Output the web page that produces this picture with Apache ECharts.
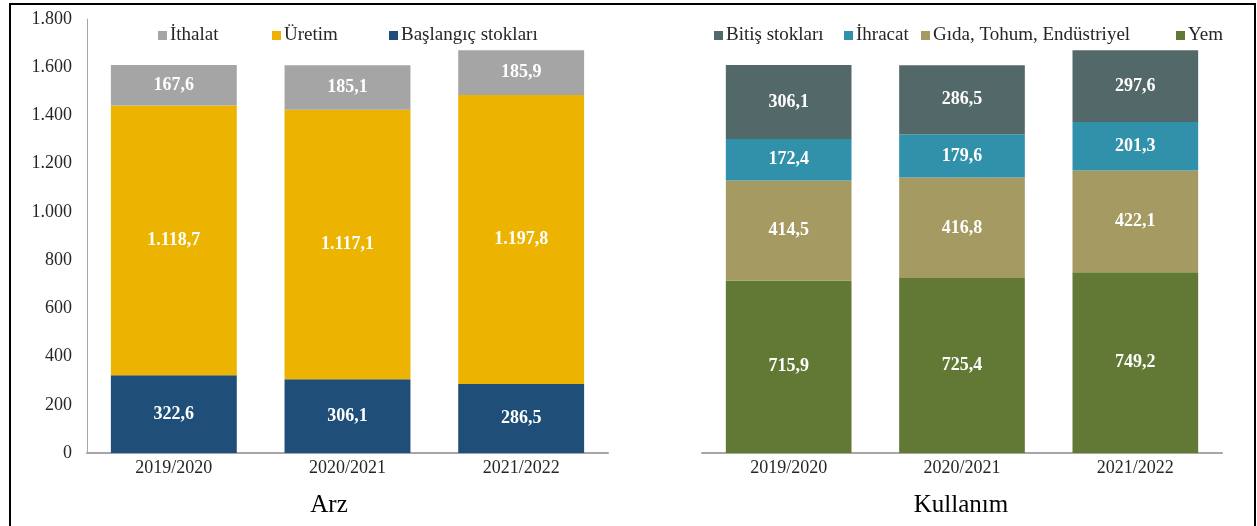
<!DOCTYPE html>
<html>
<head>
<meta charset="utf-8">
<script src="https://cdn.jsdelivr.net/npm/echarts@6/dist/echarts.min.js"></script>
<style>
  html, body { margin: 0; padding: 0; background: #fff; }
  #wrap { position: relative; width: 1257px; height: 526px; overflow: hidden; }
  #chart { position: absolute; left: 0; top: 0; width: 1257px; height: 526px; }
  #frame {
    position: absolute; left: 9px; top: 3px; width: 1243px; height: 560px;
    border: 2px solid #000; pointer-events: none;
  }
</style>
</head>
<body>
<div id="wrap">
  <div id="chart"></div>
  <div id="frame"></div>
</div>
<script>
// sezonlar
const years = ['2019/2020', '2020/2021', '2021/2022']

// Arz (bin ton)
const baslangicStok = [322.6, 306.1, 286.5]
const uretim = [1118.7, 1117.1, 1197.8]
const ithalat = [167.6, 185.1, 185.9]

// Kullanım (bin ton)
const yem = [715.9, 725.4, 749.2]
const gida = [414.5, 416.8, 422.1]
const ihracat = [172.4, 179.6, 201.3]
const bitisStok = [306.1, 286.5, 297.6]

const FONT = '"Liberation Serif", "Times New Roman", serif'

function thousands (s) {
  return s.replace(/\B(?=(\d{3})+(?!\d))/g, '.')
}
function fmtLabel (v) {
  const parts = v.toFixed(1).split('.')
  return thousands(parts[0]) + ',' + parts[1]
}

const labelStyle = {
  show: true,
  position: 'inside',
  color: '#fff',
  fontFamily: FONT,
  fontWeight: 'bold',
  fontSize: 18,
  formatter: p => fmtLabel(p.value)
}

function bar (name, data, color, idx, stack) {
  return {
    name: name,
    type: 'bar',
    stack: stack,
    xAxisIndex: idx,
    yAxisIndex: idx,
    barWidth: '72.5%',
    data: data,
    itemStyle: { color: color },
    label: labelStyle,
    emphasis: { disabled: true }
  }
}

function legendAt (name, left) {
  return {
    data: [name],
    left: left,
    top: 21,
    itemWidth: 9,
    itemHeight: 9,
    itemGap: 0,
    icon: 'rect',
    textStyle: { fontFamily: FONT, fontSize: 19, color: '#262626', padding: [0, 0, 0, -2] }
  }
}

const xAxisBase = {
  type: 'category',
  data: years,
  axisTick: { show: false },
  axisLine: { lineStyle: { color: '#A6A6A6', width: 2 } },
  axisLabel: { fontFamily: FONT, fontSize: 18, color: '#262626', margin: 6 }
}

const option = {
  animation: false,
  textStyle: { fontFamily: FONT },
  title: [
    { text: 'Arz', left: 324, top: 488, textAlign: 'center',
      textStyle: { fontFamily: FONT, fontSize: 25, fontWeight: 'normal', color: '#000' } },
    { text: 'Kullanım', left: 956, top: 488, textAlign: 'center',
      textStyle: { fontFamily: FONT, fontSize: 25, fontWeight: 'normal', color: '#000' } }
  ],
  legend: [
    legendAt('İthalat', 153),
    legendAt('Üretim', 267),
    legendAt('Başlangıç stokları', 384),
    legendAt('Bitiş stokları', 709),
    legendAt('İhracat', 839),
    legendAt('Gıda, Tohum, Endüstriyel', 916),
    legendAt('Yem', 1171)
  ],
  grid: [
    { left: 87, width: 521, top: 19, height: 434 },
    { left: 702, width: 520, top: 19, height: 434 }
  ],
  xAxis: [
    Object.assign({ gridIndex: 0 }, xAxisBase),
    Object.assign({ gridIndex: 1 }, xAxisBase)
  ],
  yAxis: [
    {
      gridIndex: 0,
      type: 'value',
      min: 0,
      max: 1800,
      interval: 200,
      splitLine: { show: false },
      axisTick: { show: false },
      axisLine: { show: true, lineStyle: { color: '#A6A6A6', width: 1 } },
      axisLabel: {
        fontFamily: FONT,
        fontSize: 18,
        color: '#262626',
        margin: 15,
        formatter: v => thousands(String(v))
      }
    },
    {
      gridIndex: 1,
      type: 'value',
      min: 0,
      max: 1800,
      interval: 200,
      show: false,
      splitLine: { show: false }
    }
  ],
  series: [
    bar('Başlangıç stokları', baslangicStok, '#1F4E78', 0, 'arz'),
    bar('Üretim', uretim, '#ECB400', 0, 'arz'),
    bar('İthalat', ithalat, '#A5A5A5', 0, 'arz'),
    bar('Yem', yem, '#627935', 1, 'kul'),
    bar('Gıda, Tohum, Endüstriyel', gida, '#A59A61', 1, 'kul'),
    bar('İhracat', ihracat, '#3190AA', 1, 'kul'),
    bar('Bitiş stokları', bitisStok, '#536868', 1, 'kul')
  ]
}

const chart = echarts.init(document.getElementById('chart'))
chart.setOption(option)
window.addEventListener('resize', () => chart.resize())
</script>
</body>
</html>
